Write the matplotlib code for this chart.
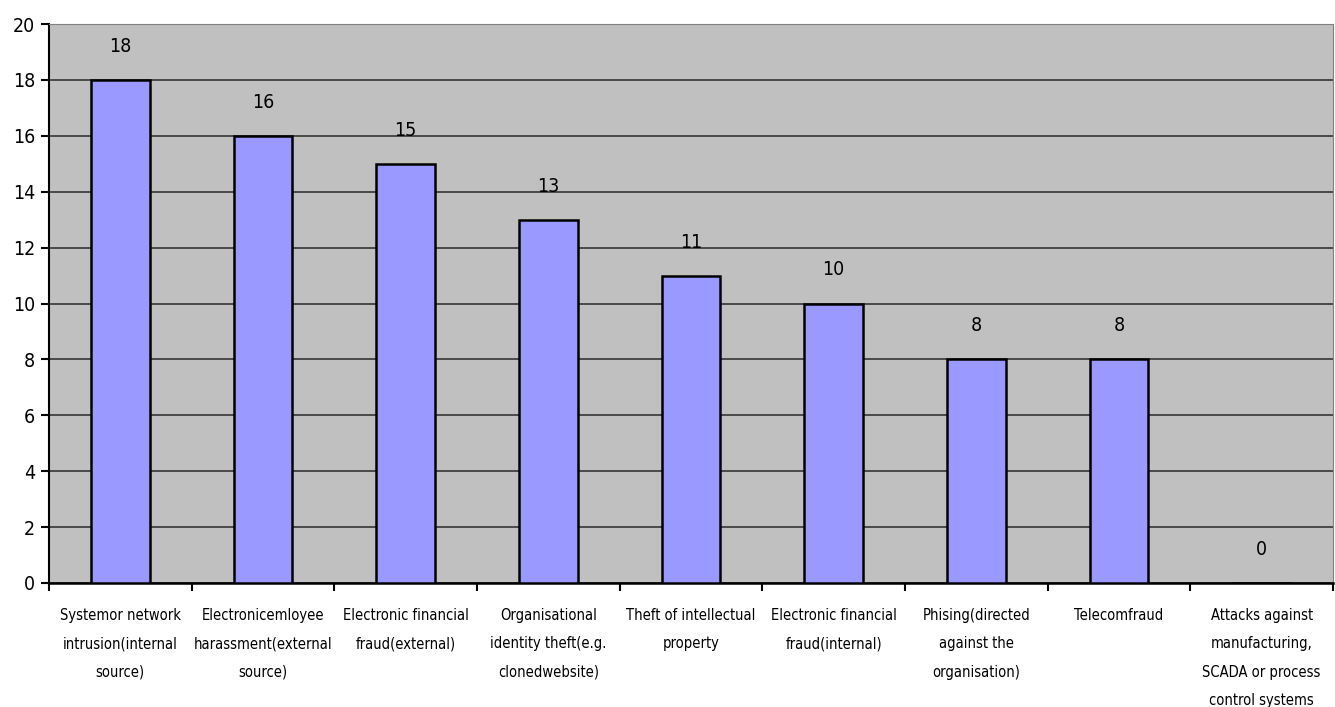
import matplotlib
matplotlib.use("Agg")
import matplotlib.pyplot as plt
import numpy as np

categories = [
    "Systemor network\nintrusion(internal\nsource)",
    "Electronicemloyee\nharassment(external\nsource)",
    "Electronic financial\nfraud(external)",
    "Organisational\nidentity theft(e.g.\nclonedwebsite)",
    "Theft of intellectual\nproperty",
    "Electronic financial\nfraud(internal)",
    "Phising(directed\nagainst the\norganisation)",
    "Telecomfraud",
    "Attacks against\nmanufacturing,\nSCADA or process\ncontrol systems",
]
values = [18, 16, 15, 13, 11, 10, 8, 8, 0]
yticks = list(range(0, 21, 2))

plt.rcParams['font.family'] = ['DejaVu Sans']
plt.rcParams['font.stretch'] = 'condensed'

fig = plt.figure(figsize=(13.35, 7.07), dpi=100)
ax = fig.add_axes([49/1335, 1-583/707, (1333-49)/1335, (583-24)/707])
ax.set_facecolor('#C0C0C0')
x = np.arange(len(values))
ax.bar(x, values, width=0.41, color='#9999FF', edgecolor='black', linewidth=1.8, zorder=3)
ax.set_xlim(-0.5, len(values)-0.5)
ax.set_ylim(0, 20)
ax.set_yticks(yticks)
ax.set_yticklabels([str(t) for t in yticks], fontsize=14, fontstretch='condensed')
ax.yaxis.grid(True, color='#404040', linewidth=1.3, zorder=1)
ax.set_axisbelow(True)

for xi, v in zip(x, values):
    ax.text(xi, v + 1.2, str(v), ha='center', va='center', fontsize=14, fontstretch='condensed')

ax.set_xticks(np.arange(len(values)+1) - 0.5)
ax.set_xticklabels([])
ax.tick_params(axis='x', length=6, width=1.5, direction='out')
ax.tick_params(axis='y', length=6, width=1.5, direction='out', pad=4)
for xi, lab in zip(x, categories):
    ax.text(xi, -0.045, lab, transform=ax.get_xaxis_transform(), ha='center', va='top',
            fontsize=10.5, linespacing=2.1, fontstretch='condensed')

ax.spines['left'].set_color('black')
ax.spines['left'].set_linewidth(1.5)
ax.spines['bottom'].set_color('black')
ax.spines['bottom'].set_linewidth(1.8)
ax.spines['top'].set_color('#808080')
ax.spines['right'].set_color('#808080')

fig.savefig('out.png', dpi=100)
